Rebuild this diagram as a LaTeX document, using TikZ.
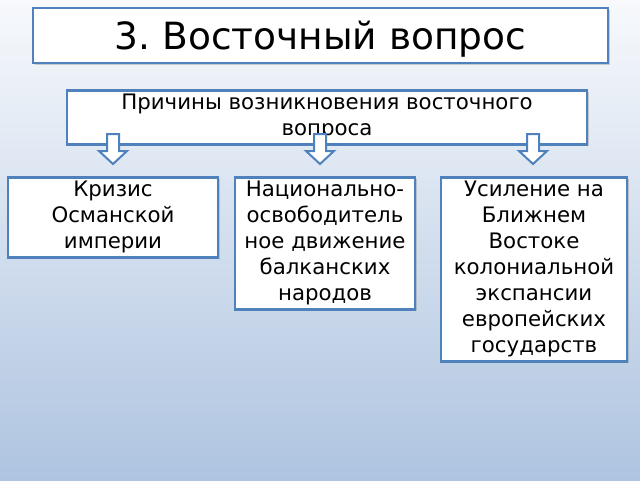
\documentclass[tikz,border=0pt]{standalone}
\usepackage{fontspec}
\setmainfont{DejaVu Sans}
\usetikzlibrary{shadows}
\definecolor{bgtop}{HTML}{F7F9FC}
\definecolor{bgbot}{HTML}{AEC4E0}
\definecolor{frameblue}{HTML}{4F81BD}
\frenchspacing
\tikzset{
	plainbox/.style={draw=frameblue, line width=2.5pt, fill=white, align=center,
		drop shadow={shadow xshift=1.5pt, shadow yshift=-1.5pt, opacity=0.35},
		inner ysep=4.2pt, font=\fontsize{21.3}{26}\selectfont},
	titlebox/.style={plainbox, minimum width=575pt, minimum height=55pt,
		text height=28pt, text depth=0pt, font=\fontsize{37.5}{44}\selectfont},
	downarrow/.style={draw=frameblue, line width=2pt, fill=white, line join=miter}
}
\begin{document}
\begin{tikzpicture}[x=1pt, y=-1pt]
			\useasboundingbox (0,0) rectangle (640,480);
			\fill[top color=bgtop, bottom color=bgbot] (0,0) rectangle (640,480);
			\node[titlebox] (title) at (320.5,35.5) {3. Восточный вопрос};
			\node[plainbox, minimum width=520pt, anchor=north] (causes) at (327,89)
				{Причины возникновения восточного\\вопроса};
			\node[plainbox, minimum width=210pt, anchor=north] (crisis) at (113,176)
				{Кризис\\Османской\\империи};
			\node[plainbox, minimum width=180pt, anchor=north] (balkans) at (325,176)
				{Национально-\\освободитель\\ное движение\\балканских\\народов};
			\node[plainbox, minimum width=186pt, anchor=north] (europe) at (534,176)
				{Усиление на\\Ближнем\\Востоке\\колониальной\\экспансии\\европейских\\государств};
			\foreach \ax in {113, 320, 533}
    \draw[downarrow] (\ax-6,134) -- (\ax+6,134) -- (\ax+6,151) -- (\ax+14,151)
		-- (\ax,164) -- (\ax-14,151) -- (\ax-6,151) -- cycle;
		\end{tikzpicture}
\end{document}
